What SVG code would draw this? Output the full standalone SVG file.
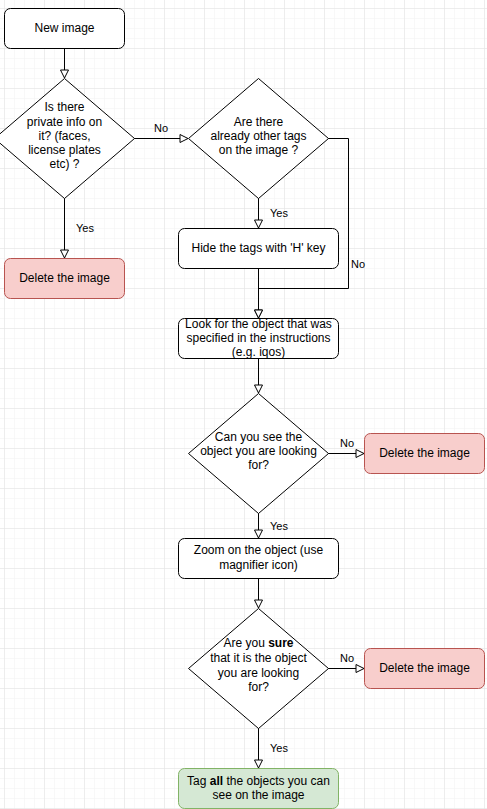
<svg xmlns="http://www.w3.org/2000/svg" width="487" height="809" viewBox="0 0 487 809">
<style>
.n{fill:#ffffff;stroke:#000000;stroke-width:1}
.red{fill:#f8cecc;stroke:#b85450;stroke-width:1}
.green{fill:#d5e8d4;stroke:#82b366;stroke-width:1}
.t{font-family:"Liberation Sans",Arial,sans-serif;font-size:12px;fill:#000000;text-anchor:middle}
.l{font-family:"Liberation Sans",Arial,sans-serif;font-size:11px;fill:#000000}
.e{fill:none;stroke:#000000;stroke-width:1;marker-end:url(#arr)}
</style>
<defs>
<pattern id="minor" x="4" y="8" width="10" height="10" patternUnits="userSpaceOnUse">
<path d="M0,0 H10 M0,0 V10" fill="none" stroke="#f2f2f2" stroke-width="1"/>
</pattern>
<pattern id="major" x="4" y="8" width="40" height="40" patternUnits="userSpaceOnUse">
<path d="M0,0 H40 M0,0 V40" fill="none" stroke="#e2e2e2" stroke-width="1"/>
</pattern>
<marker id="arr" markerUnits="userSpaceOnUse" markerWidth="12" markerHeight="12" viewBox="0 0 12 12" refX="10" refY="6" orient="auto">
<path d="M2,2 L10,6 L2,10 Z" fill="#ffffff" stroke="#000000" stroke-width="1"/>
</marker>
</defs>
<rect width="487" height="809" fill="#ffffff"/>
<rect width="487" height="809" fill="url(#minor)"/>
<rect width="487" height="809" fill="url(#major)"/>

<g id="connectors">
<path class="e" d="M64.5,48 V78"/>
<path class="e" d="M64.5,198 V258"/>
<path class="e" d="M134,138.5 H188"/>
<path class="e" d="M258.5,198 V228"/>
<path class="e" d="M328,138.5 H348.5 V288.5 H258.5 V318"/>
<path class="e" d="M258.5,268 V318"/>
<path class="e" d="M258.5,358 V393"/>
<path class="e" d="M328,453.5 H364"/>
<path class="e" d="M258.5,513 V538"/>
<path class="e" d="M258.5,578 V608"/>
<path class="e" d="M328,668.5 H364"/>
<path class="e" d="M258.5,728 V768"/>
<text class="l" x="161" y="132" text-anchor="middle">No</text>
<text class="l" x="76" y="232">Yes</text>
<text class="l" x="270" y="217">Yes</text>
<text class="l" x="351" y="268">No</text>
<text class="l" x="347" y="447" text-anchor="middle">No</text>
<text class="l" x="270" y="530">Yes</text>
<text class="l" x="347" y="662" text-anchor="middle">No</text>
<text class="l" x="270" y="752">Yes</text>
</g>

<g id="new-image">
<rect class="n" x="4.5" y="8.5" width="120" height="40" rx="6"/>
<text class="t" x="64.5" y="32">New image</text>
</g>
<g id="private-info">
<path class="n" d="M64.5,78.5 L134.5,138.5 L64.5,198.5 L-5.5,138.5 Z"/>
<text class="t" x="64.5" y="111">Is there</text>
<text class="t" x="64.5" y="126">private info on</text>
<text class="t" x="64.5" y="140">it? (faces,</text>
<text class="t" x="64.5" y="154">license plates</text>
<text class="t" x="64.5" y="168">etc) ?</text>
</g>
<g id="delete-1">
<rect class="red" x="4.5" y="258.5" width="120" height="40" rx="6"/>
<text class="t" x="64.5" y="282">Delete the image</text>
</g>
<g id="other-tags">
<path class="n" d="M258.5,78.5 L328.5,138.5 L258.5,198.5 L188.5,138.5 Z"/>
<text class="t" x="258.5" y="126">Are there</text>
<text class="t" x="258.5" y="140">already other tags</text>
<text class="t" x="258.5" y="154">on the image ?</text>
</g>
<g id="hide-tags">
<rect class="n" x="178.5" y="228.5" width="160" height="40" rx="6"/>
<text class="t" x="258.5" y="252">Hide the tags with 'H' key</text>
</g>
<g id="look-for">
<rect class="n" x="178.5" y="318.5" width="160" height="40" rx="6"/>
<text class="t" x="258.5" y="328">Look for the object that was</text>
<text class="t" x="258.5" y="342">specified in the instructions</text>
<text class="t" x="258.5" y="356">(e.g. iqos)</text>
</g>
<g id="can-see">
<path class="n" d="M258.5,393.5 L328.5,453.5 L258.5,513.5 L188.5,453.5 Z"/>
<text class="t" x="258.5" y="441">Can you see the</text>
<text class="t" x="258.5" y="455">object you are looking</text>
<text class="t" x="258.5" y="469">for?</text>
</g>
<g id="delete-2">
<rect class="red" x="364.5" y="433.5" width="120" height="40" rx="6"/>
<text class="t" x="424.5" y="457">Delete the image</text>
</g>
<g id="zoom">
<rect class="n" x="178.5" y="538.5" width="160" height="40" rx="6"/>
<text class="t" x="258.5" y="554">Zoom on the object (use</text>
<text class="t" x="258.5" y="569">magnifier icon)</text>
</g>
<g id="sure">
<path class="n" d="M258.5,608.5 L328.5,668.5 L258.5,728.5 L188.5,668.5 Z"/>
<text class="t" x="258.5" y="647">Are you <tspan font-weight="bold">sure</tspan></text>
<text class="t" x="258.5" y="662">that it is the object</text>
<text class="t" x="258.5" y="677">you are looking</text>
<text class="t" x="258.5" y="691">for?</text>
</g>
<g id="delete-3">
<rect class="red" x="364.5" y="648.5" width="120" height="40" rx="6"/>
<text class="t" x="424.5" y="672">Delete the image</text>
</g>
<g id="tag-all">
<rect class="green" x="178.5" y="768.5" width="160" height="40" rx="6"/>
<text class="t" x="258.5" y="785">Tag <tspan font-weight="bold">all</tspan> the objects you can</text>
<text class="t" x="258.5" y="799">see on the image</text>
</g>
</svg>
